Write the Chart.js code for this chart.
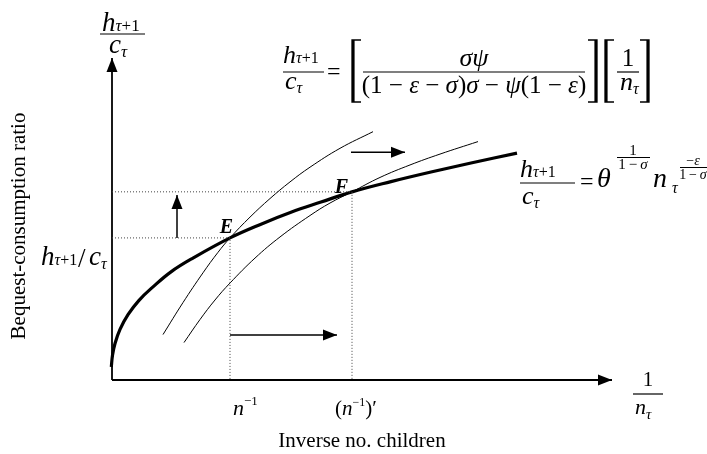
<!DOCTYPE html>
<html>
<head>
<meta charset="utf-8">
<script src="https://cdn.jsdelivr.net/npm/chart.js@4"></script>
<style>
  html, body { margin: 0; padding: 0; background: #fff; }
  #wrap { width: 707px; height: 454px; }
</style>
</head>
<body>
<div id="wrap"><canvas id="chart" width="707" height="454"></canvas></div>
<script>
// === Data (x: inverse no. children, y: bequest-consumption ratio, both 0..100) ===
const supplyX = [-0.4, -0.14, 0.1, 0.6, 1.6, 3.2, 5.4, 8.2, 11.8, 16.2, 23.6, 29.8, 35.8, 41.8, 48, 55.8, 63.8, 71.8, 81];
const supplyY = [0, 4.06, 7.7, 11.4, 15.8, 20.4, 24.9, 29.1, 33.8, 38.1, 44.4, 48.7, 52.4, 55.6, 58.8, 62, 65, 67.8, 70.9];

const demandX = [10.2, 14.2, 18.2, 21.2, 23.6, 27.6, 31.6, 35.6, 39.6, 45.6, 52.2];
const demandY = [14.2, 24.2, 33.5, 39.9, 44.4, 50.9, 56.7, 61.9, 66.5, 72.4, 77.6];

const shiftedX = [14.4, 17.6, 20.6, 23.6, 28.6, 33.6, 39.6, 43.6, 48, 53.6, 59.6, 65.6, 73.2];
const shiftedY = [11.7, 18.9, 25, 30.3, 38.1, 44.7, 51.4, 55.3, 58.8, 63.3, 67.2, 70.6, 74.5];

// equilibria
const pointE = { x: 23.6, y: 44.4 };
const pointF = { x: 48, y: 58.8 };

// arrows (start -> tip)
const xAxisX = [0, 100], xAxisY = [0, 0];
const yAxisX = [0, 0], yAxisY = [0, 100.6];
const riseX = [13, 13], riseY = [44.4, 57.8];
const shiftUpX = [47.8, 58.6], shiftUpY = [71.2, 71.2];
const shiftLowX = [23.6, 45], shiftLowY = [14.1, 14.1];

const zip = (xs, ys) => xs.map((x, i) => ({ x, y: ys[i] }));

// === text helpers ===
const SERIF = '"Liberation Serif", "Times New Roman", serif';
const I = 'italic';
const font = (size, style = '') => `${style} ${size}px ${SERIF}`.trim();

function drawRun(ctx, x, y, pieces, measureOnly) {
    for (const [t, size, style, dy] of pieces) {
        ctx.font = font(size, style);
        if (!measureOnly) ctx.fillText(t, x, y + (dy || 0));
        x += ctx.measureText(t).width;
    }
    return x;
}
const runWidth = (ctx, pieces) => drawRun(ctx, 0, 0, pieces, true);
const drawCentered = (ctx, cx, y, pieces) => drawRun(ctx, cx - runWidth(ctx, pieces) / 2, y, pieces);

function hline(ctx, x1, x2, y, w = 1.2) {
    ctx.beginPath();
    ctx.lineWidth = w;
    ctx.moveTo(x1, y);
    ctx.lineTo(x2, y);
    ctx.stroke();
}
function bracket(ctx, x, top, bottom, side) {
    const s = side === 'left' ? 1 : -1;
    const x0 = side === 'left' ? x + 2 : x + 9;
    ctx.beginPath();
    ctx.lineWidth = 1.3;
    ctx.moveTo(x0 + s * 9, top);
    ctx.lineTo(x0, top);
    ctx.lineTo(x0, bottom);
    ctx.lineTo(x0 + s * 9, bottom);
    ctx.stroke();
    ctx.beginPath();
    ctx.lineWidth = 2.6;
    ctx.moveTo(x0 + s * 1.3, top);
    ctx.lineTo(x0 + s * 1.3, bottom);
    ctx.stroke();
}
const hSub = (s, ss, d) => [['h', s, I], ['τ', ss, I, d], ['+1', ss, '', d]];
const cSub = (s, ss, d) => [['c', s, I], ['τ', ss, I, d]];
const oneMinusSigma = size => [['1\u2009−\u2009', size], ['σ', size, I]];

// === arrowheads at the last point of flagged datasets ===
const arrowHeads = {
    id: 'arrowHeads',
    afterDatasetsDraw(chart) {
        const ctx = chart.ctx;
        chart.data.datasets.forEach((ds, i) => {
            if (!ds.arrowHead) return;
            const pts = chart.getDatasetMeta(i).data;
            const a = pts[pts.length - 2], b = pts[pts.length - 1];
            const ang = Math.atan2(b.y - a.y, b.x - a.x);
            const len = 14, half = 5.5;
            ctx.save();
            ctx.translate(b.x, b.y);
            ctx.rotate(ang);
            ctx.beginPath();
            ctx.moveTo(0, 0);
            ctx.lineTo(-len, -half);
            ctx.lineTo(-len, half);
            ctx.closePath();
            ctx.fillStyle = '#000';
            ctx.fill();
            ctx.restore();
        });
    }
};

// === equations, axis titles and point labels ===
const mathLabels = {
    id: 'mathLabels',
    afterDraw(chart) {
        const { ctx, scales: { x, y } } = chart;
        ctx.save();
        ctx.fillStyle = '#000';
        ctx.strokeStyle = '#000';
        ctx.textBaseline = 'alphabetic';
        ctx.textAlign = 'left';

        // y axis title
        drawRun(ctx, 102, 31, hSub(27, 17, 0));
        hline(ctx, 100, 145, 34);
        drawRun(ctx, 109, 53, cSub(27, 17, 4));

        // optimal bequest rule
        drawRun(ctx, 283, 63, hSub(26, 16, 0));
        hline(ctx, 283, 324, 72);
        drawRun(ctx, 285, 89, cSub(26, 16, 4));
        ctx.font = font(24);
        ctx.fillText('=', 327, 78.5);
        bracket(ctx, 350, 40, 102, 'left');
        drawCentered(ctx, 474, 66, [['σψ', 26, I]]);
        hline(ctx, 363, 585, 72);
        drawCentered(ctx, 474, 93, [
            ['(1 − ', 25], ['ε', 25, I], [' − ', 25], ['σ', 25, I], [')', 25], ['σ', 25, I],
            [' − ', 25], ['ψ', 25, I], ['(1 − ', 25], ['ε', 25, I], [')', 25]
        ]);
        bracket(ctx, 588, 40, 102, 'right');
        bracket(ctx, 603, 40, 102, 'left');
        drawCentered(ctx, 628, 66, [['1', 25]]);
        hline(ctx, 617, 639, 72);
        drawRun(ctx, 620, 90, [['n', 26, I], ['τ', 16, I, 4]]);
        bracket(ctx, 640, 40, 102, 'right');

        // bequest-fertility schedule
        drawRun(ctx, 520, 177, hSub(26, 16, 0));
        hline(ctx, 520, 575, 183);
        drawRun(ctx, 522, 204, cSub(26, 16, 4));
        ctx.font = font(24);
        ctx.fillText('=', 580, 189);
        drawRun(ctx, 597, 187, [['θ', 28, I]]);
        drawCentered(ctx, 633, 155, [['1', 15]]);
        hline(ctx, 617, 650, 157.5, 1);
        drawCentered(ctx, 633, 169, oneMinusSigma(15));
        drawRun(ctx, 653, 187, [['n', 28, I]]);
        drawRun(ctx, 672, 193, [['τ', 16, I]]);
        drawCentered(ctx, 693, 165, [['−', 14], ['ε', 14, I]]);
        hline(ctx, 680, 707, 167.5, 1);
        drawCentered(ctx, 693, 179, oneMinusSigma(14));

        // level of the ratio at E
        drawRun(ctx, 41, 265, hSub(27, 16, 0));
        ctx.font = font(27);
        ctx.fillText('/', 78, 267);
        drawRun(ctx, 89, 265, cSub(27, 16, 4));

        // rotated y title
        ctx.save();
        ctx.translate(19, 226);
        ctx.rotate(-Math.PI / 2);
        ctx.textAlign = 'center';
        ctx.textBaseline = 'middle';
        ctx.font = font(21);
        ctx.fillText('Bequest-consumption ratio', 0, 0);
        ctx.restore();

        // equilibrium points
        ctx.font = font(20, 'italic bold');
        ctx.textAlign = 'right';
        ctx.fillText('E', x.getPixelForValue(pointE.x) + 3, y.getPixelForValue(pointE.y) - 5);
        ctx.fillText('F', x.getPixelForValue(pointF.x) - 4, y.getPixelForValue(pointF.y) + 1);
        ctx.textAlign = 'left';

        // x tick labels
        drawRun(ctx, x.getPixelForValue(pointE.x) + 3, 415, [['n', 22, I], ['−1', 13, '', -10]]);
        drawRun(ctx, x.getPixelForValue(pointF.x) - 17, 415,
            [['(', 21], ['n', 21, I], ['−1', 12, '', -9], [')′', 21]]);

        // x axis title
        drawCentered(ctx, 648, 386, [['1', 21]]);
        hline(ctx, 633, 663, 394);
        drawRun(ctx, 635, 414, [['n', 22, I], ['τ', 15, I, 5]]);
        ctx.textAlign = 'center';
        ctx.font = font(21);
        ctx.fillText('Inverse no. children', 362, 447);

        ctx.restore();
    }
};

const lineSet = (data, extra) => Object.assign({
    data, borderColor: '#000', borderWidth: 1, pointRadius: 0, fill: false, clip: false, tension: 0
}, extra);
const curve = { tension: 0.4 };

new Chart(document.getElementById('chart'), {
    type: 'line',
    data: {
        datasets: [
            lineSet([{ x: 0, y: pointE.y }, pointE, { x: pointE.x, y: 0 }], { borderDash: [1, 2], borderColor: '#444' }),
            lineSet([{ x: 0, y: pointF.y }, pointF, { x: pointF.x, y: 0 }], { borderDash: [1, 2], borderColor: '#444' }),
            lineSet(zip(xAxisX, xAxisY), { borderWidth: 1.8, arrowHead: true }),
            lineSet(zip(yAxisX, yAxisY), { borderWidth: 1.8, arrowHead: true }),
            lineSet(zip(demandX, demandY), curve),
            lineSet(zip(shiftedX, shiftedY), curve),
            lineSet(zip(supplyX, supplyY), { ...curve, borderWidth: 3.2 }),
            lineSet(zip(riseX, riseY), { borderWidth: 1.5, arrowHead: true }),
            lineSet(zip(shiftUpX, shiftUpY), { borderWidth: 1.5, arrowHead: true }),
            lineSet(zip(shiftLowX, shiftLowY), { borderWidth: 1.5, arrowHead: true })
        ]
    },
    options: {
        responsive: false,
        animation: false,
        events: [],
        layout: { padding: { left: 112, right: 95, top: 60, bottom: 74 } },
        plugins: { legend: { display: false }, tooltip: { enabled: false } },
        scales: {
            x: { type: 'linear', min: 0, max: 100, display: false },
            y: { type: 'linear', min: 0, max: 100, display: false }
        }
    },
    plugins: [arrowHeads, mathLabels]
});
</script>
</body>
</html>
